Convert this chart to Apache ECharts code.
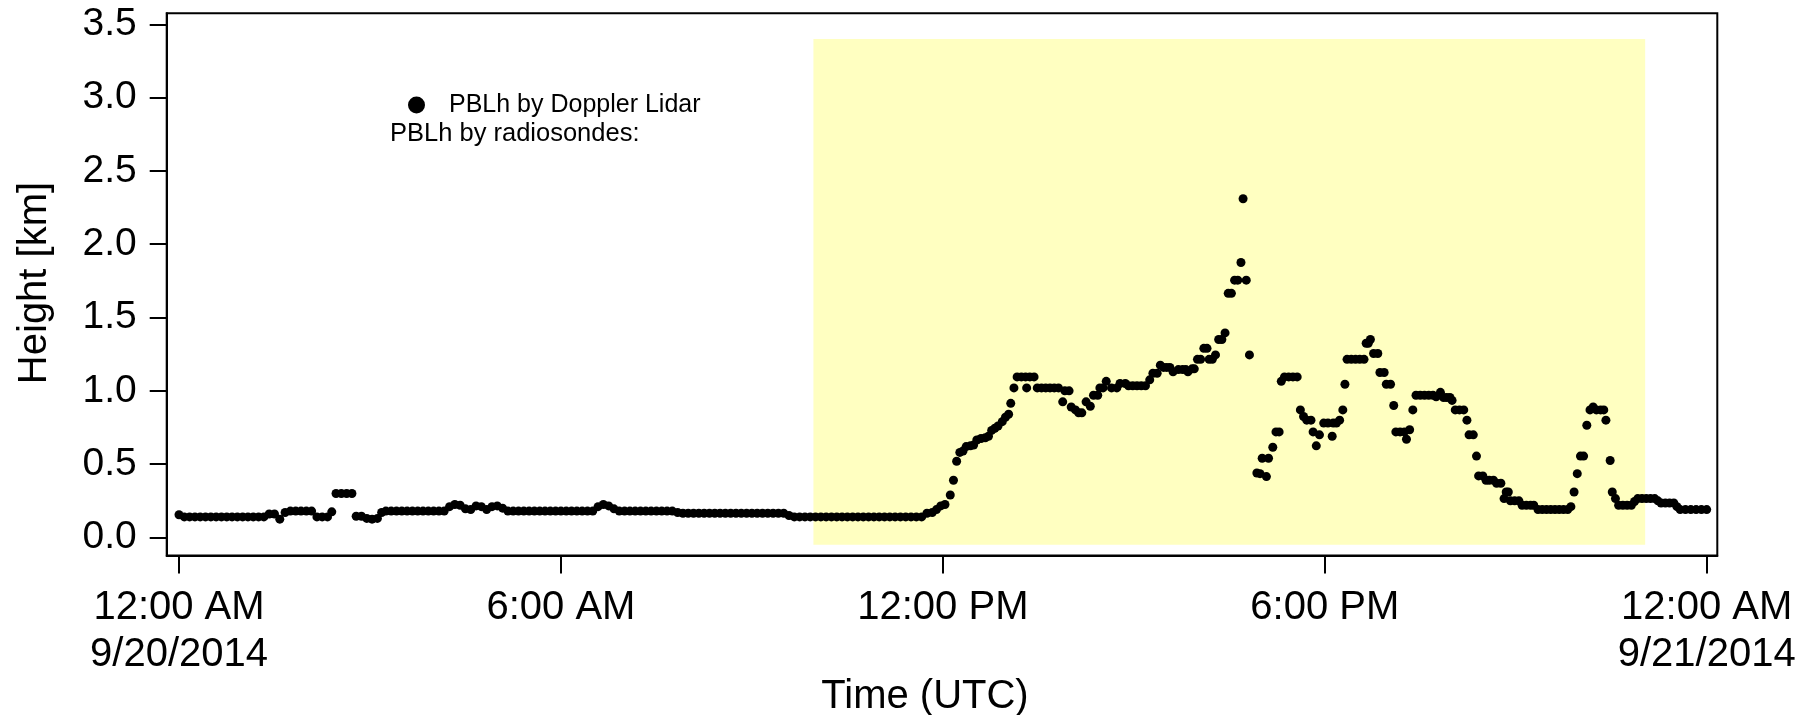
<!DOCTYPE html>
<html>
<head>
<meta charset="utf-8">
<title>PBLh 9/20/2014</title>
<script src="https://cdn.jsdelivr.net/npm/echarts@6/dist/echarts.min.js"></script>
<style>
  html, body { margin: 0; padding: 0; background: #fff; }
  #chart { width: 1810px; height: 715px; }
</style>
</head>
<body>
<div id="chart"></div>
<script>
// Tick positions (minutes after 00:00 UTC, 9/20/2014) and their labels
const xTickMinutes = [0, 360, 720, 1080, 1440];
const xTickLabels = ['12:00 AM\n9/20/2014', '6:00 AM', '12:00 PM', '6:00 PM', '12:00 AM\n9/21/2014'];
const yTickValues = [0, 0.5, 1, 1.5, 2, 2.5, 3, 3.5];
const yTickLabels = ['0.0', '0.5', '1.0', '1.5', '2.0', '2.5', '3.0', '3.5'];

// Shaded daytime window: [start, end] in minutes, and its height span in km
const daytimeMinutes = [598, 1382];
const daytimeKm = [-0.05, 3.4];

// Planetary boundary layer height from the Doppler lidar: [minute, km]
const lidarPblh = [
  // 00 UTC
  [0,0.155],[5,0.14],[10,0.14],[15,0.14],[20,0.14],[25,0.14],[30,0.14],[35,0.14],[40,0.14],[45,0.14],[50,0.14],[55,0.14],
  // 01 UTC
  [60,0.14],[65,0.14],[70,0.14],[75,0.14],[80,0.14],[85,0.16],[90,0.16],[95,0.125],[100,0.17],[105,0.18],[110,0.18],[115,0.18],
  // 02 UTC
  [120,0.18],[125,0.18],[130,0.14],[135,0.14],[140,0.14],[144,0.175],[148,0.30],[153,0.30],[158,0.30],[163,0.30],[167,0.145],[172,0.145],[177,0.13],
  // 03 UTC
  [182,0.125],[187,0.13],[191,0.17],[195,0.18],[200,0.18],[205,0.18],[210,0.18],[215,0.18],[220,0.18],[225,0.18],[230,0.18],[235,0.18],
  // 04 UTC
  [240,0.18],[245,0.18],[250,0.18],[255,0.21],[260,0.225],[265,0.22],[270,0.195],[275,0.19],[280,0.215],[285,0.21],[290,0.19],[295,0.21],
  // 05 UTC
  [300,0.215],[305,0.2],[310,0.18],[315,0.18],[320,0.18],[325,0.18],[330,0.18],[335,0.18],[340,0.18],[345,0.18],[350,0.18],[355,0.18],
  // 06 UTC
  [360,0.18],[365,0.18],[370,0.18],[375,0.18],[380,0.18],[385,0.18],[390,0.18],[395,0.21],[400,0.225],[405,0.215],[410,0.195],[415,0.18],
  // 07 UTC
  [420,0.18],[425,0.18],[430,0.18],[435,0.18],[440,0.18],[445,0.18],[450,0.18],[455,0.18],[460,0.18],[465,0.18],[470,0.17],[475,0.165],
  // 08 UTC
  [480,0.165],[485,0.165],[490,0.165],[495,0.165],[500,0.165],[505,0.165],[510,0.165],[515,0.165],[520,0.165],[525,0.165],[530,0.165],[535,0.165],
  // 09 UTC
  [540,0.165],[545,0.165],[550,0.165],[555,0.165],[560,0.165],[565,0.165],[570,0.165],[575,0.15],[580,0.14],[585,0.14],[590,0.14],[595,0.14],
  // 10 UTC
  [600,0.14],[605,0.14],[610,0.14],[615,0.14],[620,0.14],[625,0.14],[630,0.14],[635,0.14],[640,0.14],[645,0.14],[650,0.14],[655,0.14],
  // 11 UTC
  [660,0.14],[665,0.14],[670,0.14],[675,0.14],[680,0.14],[685,0.14],[690,0.14],[695,0.14],[700,0.14],[705,0.165],[710,0.17],[714,0.19],[718,0.215],
  // 12 UTC
  [722,0.225],[727,0.29],[730,0.39],[733,0.52],[736,0.58],[739,0.59],[742,0.62],[746,0.625],[749,0.63],[752,0.665],[756,0.675],[760,0.68],
  [763,0.69],[766,0.73],[769,0.745],[772,0.76],[776,0.79],[779,0.82],
  // 13 UTC
  [782,0.84],[784,0.915],[787,1.02],[790,1.095],[794,1.095],[798,1.095],[799,1.02],[802,1.095],[806,1.095],[809,1.02],[813,1.02],[817,1.02],
  [821,1.02],[825,1.02],[829,1.02],[833,0.925],[835,1.0],[839,1.0],
  // 14 UTC
  [841,0.89],[845,0.87],[848,0.85],[851,0.85],[855,0.925],[859,0.895],[862,0.97],[866,0.97],[868,1.02],[871,1.02],[874,1.065],[879,1.02],
  [884,1.02],[887,1.05],[892,1.05],[895,1.035],[899,1.035],
  // 15 UTC
  [903,1.035],[907,1.035],[911,1.035],[915,1.075],[918,1.12],[922,1.12],[925,1.175],[928,1.16],[931,1.16],[934,1.16],[937,1.13],[942,1.145],
  [946,1.145],[949,1.145],[951,1.13],[955,1.15],[957,1.15],
  // 16 UTC
  [960,1.215],[963,1.215],[966,1.29],[969,1.29],[971,1.215],[974,1.215],[977,1.245],[980,1.35],[983,1.35],[986,1.395],[989,1.665],[992,1.665],
  [995,1.755],[998,1.755],[1001,1.875],[1003,2.31],[1006,1.755],[1009,1.245],[1016,0.44],[1019,0.435],
  // 17 UTC
  [1021,0.54],[1025,0.415],[1027,0.54],[1031,0.615],[1034,0.72],[1037,0.72],[1039,1.065],[1042,1.095],[1046,1.095],[1050,1.095],[1054,1.095],
  [1057,0.87],[1060,0.825],[1063,0.8],[1067,0.8],[1069,0.72],[1072,0.625],[1075,0.7],[1079,0.78],
  // 18 UTC
  [1083,0.78],[1087,0.69],[1088,0.78],[1091,0.78],[1094,0.8],[1097,0.87],[1099,1.045],[1101,1.215],[1105,1.215],[1109,1.215],[1113,1.215],
  [1117,1.215],[1119,1.325],[1121,1.325],[1123,1.35],[1126,1.255],[1130,1.255],[1132,1.125],[1136,1.125],[1138,1.045],
  // 19 UTC
  [1142,1.045],[1145,0.9],[1147,0.72],[1151,0.72],[1155,0.72],[1157,0.67],[1160,0.735],[1163,0.87],[1166,0.97],[1170,0.97],[1174,0.97],
  [1178,0.97],[1182,0.97],[1185,0.96],[1189,0.99],[1192,0.955],[1195,0.955],[1198,0.955],
  // 20 UTC
  [1200,0.935],[1203,0.87],[1207,0.87],[1211,0.87],[1214,0.8],[1216,0.7],[1220,0.7],[1223,0.555],[1225,0.42],[1229,0.42],[1232,0.39],
  [1235,0.39],[1239,0.39],[1242,0.37],[1246,0.37],[1249,0.265],[1251,0.31],[1253,0.31],[1255,0.25],
  // 21 UTC
  [1259,0.25],[1263,0.25],[1266,0.22],[1270,0.22],[1274,0.22],[1277,0.22],[1281,0.19],[1285,0.19],[1289,0.19],[1293,0.19],[1297,0.19],
  [1301,0.19],[1305,0.19],[1309,0.19],[1312,0.21],[1315,0.31],[1318,0.435],
  // 22 UTC
  [1321,0.555],[1324,0.555],[1327,0.765],[1330,0.87],[1333,0.89],[1336,0.87],[1340,0.87],[1343,0.87],[1345,0.8],[1349,0.525],[1351,0.31],
  [1354,0.265],[1357,0.22],[1361,0.22],[1365,0.22],[1369,0.22],[1372,0.245],[1375,0.265],
  // 23 UTC
  [1379,0.265],[1383,0.265],[1387,0.265],[1391,0.265],[1394,0.25],[1397,0.235],[1401,0.235],[1405,0.235],[1409,0.235],[1412,0.21],
  [1415,0.19],[1420,0.19],[1425,0.19],[1430,0.19],[1435,0.19],[1440,0.19]
];

const FONT = '"Liberation Sans", Arial, Helvetica, sans-serif';

const chart = echarts.init(document.getElementById('chart'), null, { renderer: 'canvas' });

chart.setOption({
  animation: false,
  backgroundColor: '#fff',
  grid: {
    left: 166.7, right: 92.7, top: 13.3, bottom: 159.5,
    show: true, borderColor: '#000', borderWidth: 2, backgroundColor: 'transparent'
  },
  xAxis: {
    type: 'value',
    min: -11.6,
    max: 1450,
    axisLine: { show: true, onZero: false, lineStyle: { color: '#000', width: 2 } },
    axisTick: { show: true, inside: false, length: 18, customValues: xTickMinutes, lineStyle: { color: '#000', width: 2 } },
    axisLabel: {
      customValues: xTickMinutes,
      formatter: (v) => xTickLabels[xTickMinutes.indexOf(v)],
      fontFamily: FONT, fontSize: 40, lineHeight: 47, color: '#000', margin: 29
    },
    splitLine: { show: false }
  },
  yAxis: {
    type: 'value',
    min: -0.123,
    max: 3.575,
    axisLine: { show: true, onZero: false, lineStyle: { color: '#000', width: 2 } },
    axisTick: { show: true, inside: false, length: 17, customValues: yTickValues, lineStyle: { color: '#000', width: 2 } },
    axisLabel: {
      customValues: yTickValues,
      formatter: (v) => yTickLabels[yTickValues.indexOf(v)],
      fontFamily: FONT, fontSize: 39, color: '#000', margin: 30
    },
    splitLine: { show: false }
  },
  legend: {
    data: ['PBLh by Doppler Lidar'],
    left: 403, top: 87,
    icon: 'circle', itemWidth: 17, itemHeight: 17,
    itemStyle: { color: '#000', opacity: 1 },
    textStyle: { fontFamily: FONT, fontSize: 25, lineHeight: 26, color: '#000', padding: [0, 0, 0, 19] },
    selectedMode: false
  },
  series: [
    {
      name: 'PBLh by Doppler Lidar',
      type: 'scatter',
      data: lidarPblh,
      symbol: 'circle',
      symbolSize: 9,
      itemStyle: { color: '#000', opacity: 1 },
      z: 3,
      markArea: {
        silent: true,
        itemStyle: { color: '#ffffc1', opacity: 1 },
        data: [[
          { xAxis: daytimeMinutes[0], yAxis: daytimeKm[0] },
          { xAxis: daytimeMinutes[1], yAxis: daytimeKm[1] }
        ]]
      }
    }
  ],
  graphic: [
    {
      type: 'text', x: 35, y: 283, rotation: Math.PI / 2,
      style: { text: 'Height [km]', font: '40px ' + FONT, fill: '#000', align: 'center', verticalAlign: 'middle' }
    },
    {
      type: 'text', x: 925, y: 697,
      style: { text: 'Time (UTC)', font: '40px ' + FONT, fill: '#000', align: 'center', verticalAlign: 'middle' }
    },
    {
      type: 'text', x: 390, y: 134,
      style: { text: 'PBLh by radiosondes:', font: '25.5px ' + FONT, fill: '#000', align: 'left', verticalAlign: 'middle' }
    }
  ]
});
</script>
</body>
</html>
